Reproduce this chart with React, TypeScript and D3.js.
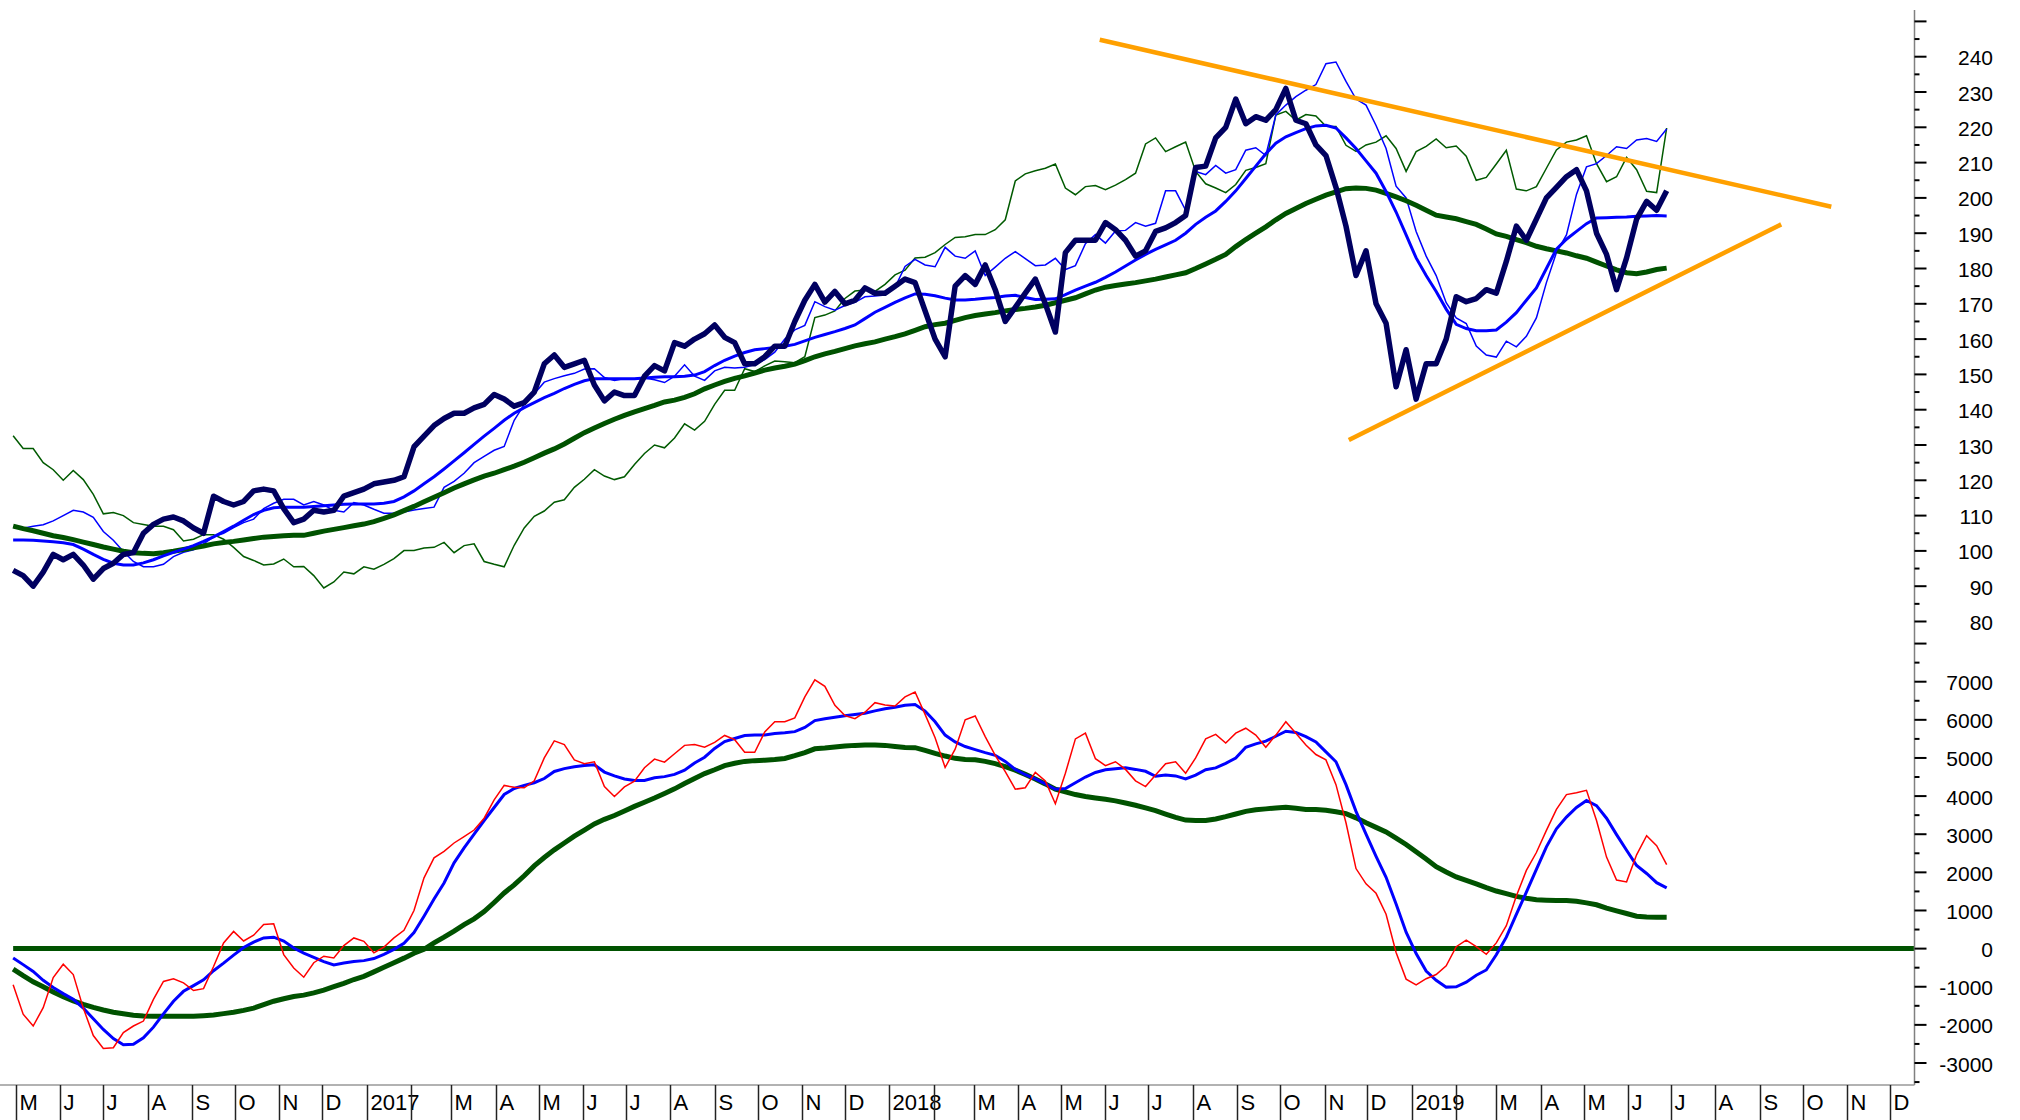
import React from "react";
import * as d3 from "d3";

// weekly closes starting Fri 29 Apr 2016
const weekStart = new Date(2016, 3, 29);

const price = [
  94.5, 93, 90, 94, 99, 97.5, 99, 96, 92, 95,
  96.5, 99, 99.5, 105, 107.5, 109, 109.6, 108.5, 106.5, 105,
  115.5, 114, 113, 114, 117, 117.5, 117, 112, 108, 109,
  111.5, 111, 111.5, 115.5, 116.5, 117.5, 119, 119.5, 120, 121,
  129.5, 132.5, 135.5, 137.5, 139, 139, 140.5, 141.5, 144.3, 143,
  141, 142, 145, 153, 155.5, 152, 153, 154, 147, 142.5,
  145, 144, 144, 149.5, 152.5, 151, 159, 158, 160, 161.5,
  164, 160.5, 159, 153, 153, 155, 158, 158, 165, 171,
  175.5, 170.5, 173.5, 170, 171, 174.5, 173, 173, 175, 177,
  176, 168, 160, 155, 175, 178, 175.5, 181, 174, 165,
  169, 173, 177, 170, 162, 184.5, 188, 188, 188, 193,
  191, 188, 183.5, 185, 190.5, 191.5, 193, 195, 208.6, 209,
  217, 220, 228, 221, 223, 222, 225, 231, 222, 221,
  215, 212, 203, 192, 178, 185, 170, 164.5, 146.5, 157,
  143, 153, 153, 160, 172, 170.6, 171.5, 174, 173, 182,
  192, 188, 194, 200, 203, 206, 208, 202, 190, 184,
  174, 183, 194, 199, 196.5, 202,
];

const compareBlue = [
  106.8, 106.4, 107, 107.4, 108.5, 110, 111.5, 111, 109.5, 105.5,
  103, 99.8, 97, 95.5, 95.5, 96.2, 98.4, 99.6, 100.3, 102,
  104, 105, 106.6, 108, 109, 112, 113.5, 114.6, 114.6, 113,
  114, 113, 111.5, 111, 113.7, 113, 111.8, 110.7, 110.7, 111,
  111.6, 112, 112.4, 118, 119.7, 122, 125, 126.8, 128.5, 129.6,
  137, 141.5, 144.5, 147.8, 148.8, 149.6, 150.3, 151.5, 151.6, 149.1,
  148.3, 148.8, 148.8, 149, 148.5, 147.7, 149.5, 152.7, 149.5, 148.3,
  151, 152, 151.8, 152, 152.8, 154.2, 156.3, 160, 162.6, 163.9,
  170.6, 169.2, 168.2, 169.5, 170.4, 172, 172.2, 172.5, 174.7, 180.6,
  182.6, 181, 180.5, 186, 183.5, 182.9, 185, 178, 180.4, 182.9,
  184.8, 182.8, 180.8, 181, 182.9, 179.7, 180.8, 187, 189.6, 187.2,
  190.6, 190.8, 193, 192, 192.8, 202, 202, 196.5, 207.5, 206.6,
  209.2, 207, 208, 213.5, 214.2, 212, 223.5, 226.3, 228.7, 230.5,
  232.1, 238, 238.5, 233, 228, 226.3, 220.5, 214, 203.3, 200,
  190.5, 183.5, 178, 170.3, 166, 164.4, 158, 155.5, 154.9, 159.4,
  157.8, 160.8, 166, 176, 184.5, 189.5, 201, 208.8, 209.7, 212,
  214.5, 214, 216.4, 216.8, 216, 219.5,
];

const compareGreen = [
  132.6, 129, 129, 125, 123, 120, 122.8, 120.2, 116, 110.5,
  110.9, 110, 108, 107.5, 107, 107, 106, 102.8, 103.3, 104.6,
  104.6, 103.3, 101, 98.4, 97.3, 96, 96.3, 97.7, 95.5, 95.6,
  93, 89.5, 91.2, 94, 93.5, 95.5, 94.8, 96.2, 97.8, 100.1,
  100.1, 100.8, 101, 102.4, 99.5, 101.5, 102, 97, 96.2, 95.5,
  101.6, 106.5, 109.8, 111.3, 113.8, 114.5, 118, 120.3, 123, 121.2,
  120.2, 121, 124.5, 127.6, 130, 129.2, 132, 136, 134.2, 136.7,
  141.5, 145.5, 145.5, 151.6, 150.8, 152.4, 153.8, 153.6, 153.3, 155,
  166.1, 166.8, 168, 171.5, 173.6, 173.9, 173.5, 175.5, 178.2, 179.5,
  183, 183.2, 184.5, 186.8, 188.8, 189, 189.6, 189.6, 191, 193.8,
  204.8, 206.8, 207.7, 208.4, 209.6, 202.8, 200.9, 203.2, 203.5, 202.3,
  203.6, 205.2, 207, 215.3, 217, 213.1, 214.5, 215.8, 207.5, 204,
  202.8, 201.5, 203.8, 207.8, 208.6, 209.7, 223.5, 224.5, 222, 223.6,
  223.2, 220.3, 220.2, 214.9, 213.2, 215, 215.8, 217.6, 214, 207.5,
  213.1, 214.6, 216.7, 214.2, 214.7, 211.8, 205, 205.8, 209.6, 213.5,
  202.5, 202, 203.2, 208.4, 213.6, 215.8, 216.4, 217.6, 209.7, 204.6,
  206, 211.5, 208, 201.9, 201.5, 219.8,
];

const maShort = [
  103.1, 103.1, 103, 102.8, 102.6, 102.3, 101.8, 100.5, 99, 97.6,
  96.5, 96, 96, 96.6, 97.5, 98.6, 99.6, 100.5, 101.5, 102.7,
  104, 105.5, 107, 108.7, 110.3, 111.5, 112.2, 112.4, 112.4, 112.4,
  112.6, 112.8, 113, 113.2, 113.3, 113.3, 113.3, 113.5, 114, 115.3,
  117, 119, 121, 123.2, 125.5, 127.8, 130.2, 132.5, 134.7, 137,
  139, 140.6, 142, 143.4, 144.6, 146, 147.2, 148.2, 148.8, 148.8,
  148.8, 148.8, 148.8, 149, 149.2, 149.3, 149.3, 149.5, 149.8, 150.8,
  152.5, 154, 155.2, 156.2, 157, 157.3, 157.6, 158, 158.5, 159.5,
  160.5, 161.3, 162.1, 163, 164, 165.8, 167.6, 169, 170.4, 171.7,
  172.8, 172.7, 172.3, 171.6, 171.1, 171.1, 171.3, 171.6, 171.8, 172.2,
  172.4, 171.8, 171.2, 171.3, 171.4, 172.6, 173.9, 175, 176.1, 177.5,
  179, 180.7, 182.4, 184, 185.4, 186.7, 188, 190, 192.5, 194.5,
  196.3, 199, 202, 205.5, 209, 212.5, 215.5, 217.3, 218.5, 219.6,
  220.4, 220.6, 219.8, 217, 214, 210.5, 207, 201.8, 196, 189.5,
  183, 178, 173.5, 168.5, 164.2, 163, 162.4, 162.4, 162.6, 164.8,
  167.5, 171, 174.5, 180, 185.5, 188.3, 190.5, 192.7, 194.3, 194.4,
  194.5, 194.6, 194.8, 194.9, 195, 194.9,
];

const maLong = [
  107, 106.3, 105.7, 105, 104.3, 103.8, 103.2, 102.5, 101.8, 101.1,
  100.5, 99.9, 99.5, 99.3, 99.2, 99.5, 99.9, 100.4, 100.9, 101.4,
  102, 102.4, 102.7, 103.1, 103.5, 103.9, 104.1, 104.3, 104.4, 104.4,
  105, 105.6, 106.1, 106.6, 107.1, 107.6, 108.3, 109.2, 110.2, 111.4,
  112.6, 113.9, 115.2, 116.5, 117.8, 119, 120.1, 121.2, 122, 123,
  124, 125.1, 126.4, 127.7, 128.9, 130.3, 131.9, 133.5, 134.8, 136.1,
  137.3, 138.4, 139.4, 140.3, 141.2, 142.2, 142.7, 143.5, 144.5, 145.9,
  147, 148, 148.9, 149.6, 150.4, 151.2, 151.8, 152.3, 152.9, 153.9,
  155, 155.8, 156.5, 157.3, 158.1, 158.7, 159.2, 160, 160.7, 161.5,
  162.5, 163.5, 164.1, 164.5, 165.3, 166.1, 166.7, 167.1, 167.5, 168,
  168.4, 168.7, 169.1, 169.6, 170.3, 171, 171.7, 172.8, 173.9, 174.7,
  175.2, 175.6, 176, 176.5, 177, 177.6, 178.2, 178.8, 180, 181.3,
  182.6, 184, 186.2, 188.2, 190, 191.8, 193.8, 195.6, 197, 198.4,
  199.6, 200.8, 201.7, 202.6, 202.8, 202.7, 202.2, 201.3, 200.3, 199.2,
  197.9, 196.5, 195.1, 194.6, 194.1, 193.3, 192.5, 191.2, 189.8, 189.1,
  188.2, 187.3, 186.3, 185.6, 185, 184.4, 183.6, 182.9, 181.8, 180.7,
  179.6, 178.8, 178.5, 179, 179.7, 180.1,
];

const oscRed = [
  -950, -1720, -2030, -1550, -760, -410, -680, -1560, -2280, -2620,
  -2600, -2200, -2030, -1900, -1330, -860, -790, -900, -1100, -1050,
  -470, 150, 450, 200, 350, 630, 650, -157, -507, -750,
  -370, -200, -245, 80, 280, 192, -110, 40, 280, 480,
  1000, 1855, 2380, 2550, 2770, 2940, 3110, 3420, 3900, 4280,
  4230, 4217, 4400, 5000, 5450, 5350, 4950, 4850, 4900, 4250,
  3990, 4240, 4392, 4742, 4970, 4890, 5110, 5330, 5350, 5280,
  5410, 5590, 5480, 5150, 5150, 5680, 5950, 5950, 6050, 6600,
  7050, 6880, 6380, 6110, 6030, 6200, 6450, 6390, 6361, 6600,
  6730, 6142, 5530, 4750, 5230, 6000, 6100, 5560, 5070, 4640,
  4180, 4220, 4620, 4400, 3800, 4600, 5500, 5650, 4980, 4800,
  4900, 4700, 4400, 4250, 4550, 4850, 4900, 4600, 5000, 5500,
  5620, 5390, 5650, 5780, 5600, 5280, 5600, 5950, 5650, 5340,
  5090, 4950, 4300, 3300, 2100, 1700, 1450, 900, -100, -800,
  -950, -790, -680, -450, 50, 220, 50, -150, 150, 600,
  1380, 2050, 2520, 3100, 3650, 4040, 4090, 4150, 3360, 2400,
  1800, 1750, 2460, 2960, 2700, 2205,
];

const oscBlue = [
  -245, -420, -600, -830, -1020, -1180, -1330, -1560, -1840, -2120,
  -2360, -2520, -2510, -2340, -2060, -1710, -1380, -1120, -970, -820,
  -580, -380, -170, 30, 170, 280, 300, 200, 17, -120,
  -230, -340, -430, -380, -340, -315, -260, -150, -20, 140,
  420, 850, 1300, 1720, 2250, 2640, 3000, 3360, 3700, 4042,
  4200, 4280, 4350, 4460, 4645, 4720, 4770, 4800, 4820, 4630,
  4530, 4450, 4410, 4410, 4480, 4510, 4570, 4680, 4870, 5020,
  5250, 5430, 5510, 5590, 5600, 5600, 5640, 5661, 5690, 5800,
  5980, 6030, 6070, 6105, 6142, 6175, 6235, 6290, 6330, 6380,
  6400, 6230, 5950, 5600, 5420, 5300, 5220, 5140, 5070, 4910,
  4700, 4560, 4450, 4320, 4180, 4200, 4350, 4500, 4620, 4690,
  4720, 4740, 4700, 4650, 4520, 4550, 4530, 4450, 4550, 4690,
  4740, 4860, 5000, 5280, 5370, 5440, 5570, 5700, 5670, 5560,
  5420, 5160, 4900, 4300, 3600, 3000, 2420, 1870, 1170, 430,
  -130, -590, -830, -1010, -1000, -880, -700, -560, -160, 300,
  900, 1480, 2080, 2670, 3140, 3450, 3700, 3885, 3750, 3420,
  2990, 2580, 2180, 1970, 1730, 1592,
];

const oscGreen = [
  -540, -710, -870, -1000, -1140, -1260, -1370, -1460, -1540, -1610,
  -1670, -1710, -1745, -1770, -1776, -1776, -1776, -1776, -1776, -1760,
  -1740, -1705, -1670, -1620, -1560, -1470, -1380, -1315, -1255, -1220,
  -1160, -1090, -1000, -910, -810, -726, -610, -490, -370, -250,
  -120, -20, 150, 300, 460, 630, 780, 970, 1210, 1460,
  1670, 1910, 2170, 2390, 2590, 2770, 2950, 3110, 3270, 3390,
  3490, 3610, 3730, 3840, 3950, 4070, 4190, 4330, 4460, 4590,
  4690, 4800, 4860, 4910, 4930, 4943, 4960, 4987, 5060, 5140,
  5240, 5260, 5290, 5315, 5330, 5337, 5337, 5330, 5300, 5275,
  5270, 5200, 5120, 5050, 4990, 4960, 4950, 4910, 4850, 4770,
  4680, 4570, 4450, 4320, 4180, 4110, 4040, 3990, 3950, 3915,
  3875, 3820, 3760, 3690, 3620, 3530, 3440, 3370, 3360, 3360,
  3400, 3460, 3530, 3600, 3640, 3665, 3690, 3710, 3680, 3650,
  3649, 3630, 3590, 3540, 3430, 3300, 3180, 3060, 2900, 2730,
  2540, 2350, 2150, 2010, 1880, 1790, 1700, 1600, 1510, 1440,
  1370, 1320, 1280, 1270, 1260, 1260, 1240, 1200, 1150, 1060,
  990, 920, 850, 830, 822, 822,
];

// trend lines drawn on the price panel
const upperTrend: [string, number][] = [["2018-05-28", 244.8], ["2019-10-21", 197.5]];
const lowerTrend: [string, number][] = [["2018-11-18", 131.4], ["2019-09-16", 192.5]];

const priceLabels = d3.range(80, 241, 10);
const oscLabels = d3.range(-3000, 7001, 1000);
const monthLetters = ["J", "F", "M", "A", "M", "J", "J", "A", "S", "O", "N", "D"];

const W = 2020;
const H = 1120;
const axisX = 1914.5;
const font = "'Liberation Sans', Arial, sans-serif";

const x = d3.scaleTime().domain([new Date(2016, 4, 1), new Date(2019, 11, 1)]).range([16, 1890]);
const yPrice = d3.scaleLinear().domain([80, 250]).range([621.5, 21.4]);
const yOsc = d3.scaleLinear().domain([-3000, 7000]).range([1063, 681.7]);

const dateAt = (i: number) => d3.timeDay.offset(weekStart, 7 * i);
const parse = d3.timeParse("%Y-%m-%d");

const priceLine = d3.line<number>().x((_, i) => x(dateAt(i))).y((v) => yPrice(v));
const oscLine = d3.line<number>().x((_, i) => x(dateAt(i))).y((v) => yOsc(v));
const trendLine = d3.line<[string, number]>().x((d) => x(parse(d[0]) as Date)).y((d) => yPrice(d[1]));

export default function App() {
  const months = d3.timeMonth.range(new Date(2016, 4, 1), new Date(2020, 0, 1));
  const priceTicks = d3.range(80, 251, 5);
  const oscTicks = d3.range(-3500, 8001, 500);

  return (
    <svg width={W} height={H} style={{ position: "absolute", left: 0, top: 0, background: "#fff" }}>
      <rect width={W} height={H} fill="#fff" />

      {/* price panel */}
      <path d={priceLine(compareGreen) || ""} fill="none" stroke="#005a00" strokeWidth={1.5} />
      <path d={priceLine(compareBlue) || ""} fill="none" stroke="#0000ff" strokeWidth={1.5} />
      <path d={priceLine(maLong) || ""} fill="none" stroke="#005200" strokeWidth={5} />
      <path d={priceLine(maShort) || ""} fill="none" stroke="#0000ff" strokeWidth={3} />
      <path d={trendLine(upperTrend) || ""} fill="none" stroke="#ffa000" strokeWidth={4.5} />
      <path d={trendLine(lowerTrend) || ""} fill="none" stroke="#ffa000" strokeWidth={4.5} />
      <path d={priceLine(price) || ""} fill="none" stroke="#000060" strokeWidth={5.5} strokeLinejoin="round" />

      {/* oscillator panel */}
      <line x1={x(dateAt(0))} x2={axisX} y1={yOsc(0)} y2={yOsc(0)} stroke="#005200" strokeWidth={5} />
      <path d={oscLine(oscGreen) || ""} fill="none" stroke="#005200" strokeWidth={5} />
      <path d={oscLine(oscBlue) || ""} fill="none" stroke="#0000ff" strokeWidth={3} />
      <path d={oscLine(oscRed) || ""} fill="none" stroke="#ff0000" strokeWidth={1.5} />

      {/* right axis */}
      <line x1={axisX} x2={axisX} y1={10} y2={1085} stroke="#808080" strokeWidth={1.5} />
      {priceTicks.map((v) => (
        <line key={"p" + v} x1={axisX} x2={axisX + (v % 10 === 0 ? 12 : 5)} y1={yPrice(v)} y2={yPrice(v)} stroke="#000" strokeWidth={2} />
      ))}
      {oscTicks.map((v) => (
        <line key={"o" + v} x1={axisX} x2={axisX + (v % 1000 === 0 ? 12 : 5)} y1={yOsc(v)} y2={yOsc(v)} stroke="#000" strokeWidth={2} />
      ))}
      {priceLabels.map((v) => (
        <text key={"pl" + v} x={1993} y={yPrice(v) + 1} textAnchor="end" dominantBaseline="central" fontFamily={font} fontSize={21}>
          {v}
        </text>
      ))}
      {oscLabels.map((v) => (
        <text key={"ol" + v} x={1993} y={yOsc(v) + 1} textAnchor="end" dominantBaseline="central" fontFamily={font} fontSize={21}>
          {v}
        </text>
      ))}

      {/* time axis */}
      <line x1={0} x2={axisX} y1={1085} y2={1085} stroke="#999" strokeWidth={1.5} />
      {months.map((m) => {
        const mx = Math.round(x(m)) + 0.5;
        const mi = m.getMonth();
        const label = mi === 0 ? String(m.getFullYear()) : mi === 1 ? "" : monthLetters[mi];
        return (
          <g key={m.toISOString()}>
            <text x={mx + 3} y={1102} dominantBaseline="central" fontFamily={font} fontSize={22}>
              {label}
            </text>
            <line x1={mx} x2={mx} y1={1085} y2={1120} stroke="#222" strokeWidth={1.5} />
          </g>
        );
      })}
    </svg>
  );
}
